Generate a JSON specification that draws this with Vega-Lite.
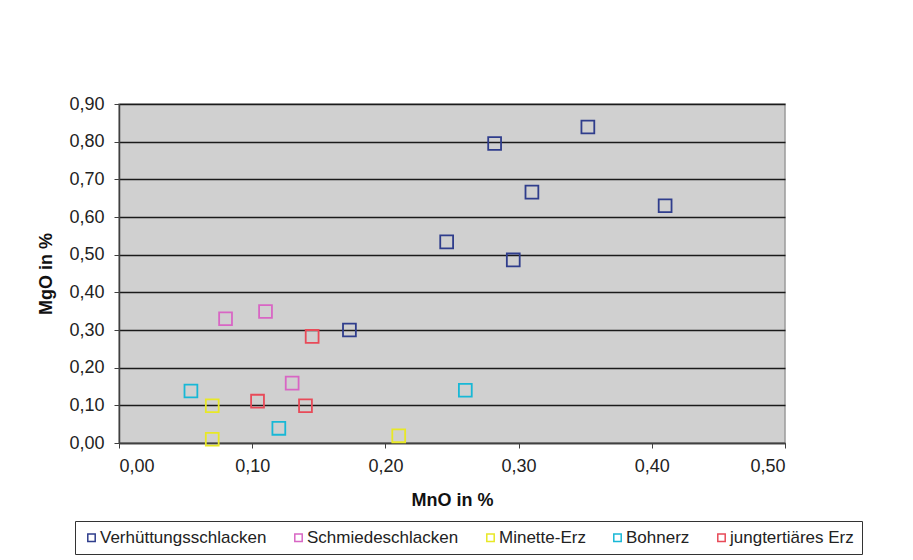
{
  "$schema": "https://vega.github.io/schema/vega-lite/v6.json",
  "autosize": "none",
  "width": 666,
  "height": 339,
  "padding": {"left": 119, "top": 104, "right": 128, "bottom": 117},
  "background": "#ffffff",
  "config": {
    "locale": {"number": {"decimal": ",", "thousands": ".", "grouping": [3], "currency": ["", " €"]}},
    "font": "Liberation Sans",
    "view": {"fill": "#d0d0d0", "stroke": "#9a9a9a", "strokeWidth": 1.5}
  },
  "data": {
    "values": [
      {"MnO": 0.246, "MgO": 0.534, "Gruppe": "Verhüttungsschlacken"},
      {"MnO": 0.282, "MgO": 0.795, "Gruppe": "Verhüttungsschlacken"},
      {"MnO": 0.352, "MgO": 0.839, "Gruppe": "Verhüttungsschlacken"},
      {"MnO": 0.310, "MgO": 0.666, "Gruppe": "Verhüttungsschlacken"},
      {"MnO": 0.410, "MgO": 0.630, "Gruppe": "Verhüttungsschlacken"},
      {"MnO": 0.296, "MgO": 0.486, "Gruppe": "Verhüttungsschlacken"},
      {"MnO": 0.173, "MgO": 0.300, "Gruppe": "Verhüttungsschlacken"},
      {"MnO": 0.080, "MgO": 0.330, "Gruppe": "Schmiedeschlacken"},
      {"MnO": 0.110, "MgO": 0.349, "Gruppe": "Schmiedeschlacken"},
      {"MnO": 0.130, "MgO": 0.159, "Gruppe": "Schmiedeschlacken"},
      {"MnO": 0.070, "MgO": 0.099, "Gruppe": "Minette-Erz"},
      {"MnO": 0.070, "MgO": 0.010, "Gruppe": "Minette-Erz"},
      {"MnO": 0.210, "MgO": 0.019, "Gruppe": "Minette-Erz"},
      {"MnO": 0.054, "MgO": 0.138, "Gruppe": "Bohnerz"},
      {"MnO": 0.120, "MgO": 0.039, "Gruppe": "Bohnerz"},
      {"MnO": 0.260, "MgO": 0.140, "Gruppe": "Bohnerz"},
      {"MnO": 0.145, "MgO": 0.283, "Gruppe": "jungtertiäres Erz"},
      {"MnO": 0.104, "MgO": 0.111, "Gruppe": "jungtertiäres Erz"},
      {"MnO": 0.140, "MgO": 0.099, "Gruppe": "jungtertiäres Erz"}
    ]
  },
  "mark": {"type": "point", "shape": "square", "filled": false, "size": 165, "strokeWidth": 1.8, "opacity": 1},
  "encoding": {
    "x": {
      "field": "MnO", "type": "quantitative", "title": "MnO in %",
      "scale": {"domain": [0, 0.5], "nice": false, "zero": true},
      "axis": {
        "values": [0, 0.1, 0.2, 0.3, 0.4, 0.5], "format": ".2f", "grid": false,
        "labelFont": "Liberation Sans", "labelFontSize": 18, "labelColor": "#222222", "labelPadding": 9,
        "tickSize": 5, "tickColor": "#404040", "domainColor": "#404040", "domainWidth": 1.5,
        "titleFont": "Liberation Sans", "titleFontSize": 18, "titleFontWeight": "bold", "titleColor": "#111111", "titlePadding": 16
      }
    },
    "y": {
      "field": "MgO", "type": "quantitative", "title": "MgO in %",
      "scale": {"domain": [0, 0.9], "nice": false, "zero": true},
      "axis": {
        "values": [0, 0.1, 0.2, 0.3, 0.4, 0.5, 0.6, 0.7, 0.8, 0.9], "format": ".2f",
        "grid": true, "gridColor": "#1a1a1a", "gridWidth": 1.3,
        "labelFont": "Liberation Sans", "labelFontSize": 18, "labelColor": "#222222", "labelPadding": 10,
        "tickSize": 5, "tickColor": "#404040", "domainColor": "#404040", "domainWidth": 1.5,
        "titleFont": "Liberation Sans", "titleFontSize": 18, "titleFontWeight": "bold", "titleColor": "#111111", "titlePadding": 13
      }
    },
    "color": {
      "field": "Gruppe", "type": "nominal",
      "scale": {
        "domain": ["Verhüttungsschlacken", "Schmiedeschlacken", "Minette-Erz", "Bohnerz", "jungtertiäres Erz"],
        "range": ["#2f3d8c", "#d866c4", "#e8e826", "#18b8d6", "#e84a58"]
      },
      "legend": {
        "title": null, "orient": "none", "direction": "horizontal", "columns": 5,
        "legendX": -44, "legendY": 417,
        "symbolType": "square", "symbolSize": 55, "symbolStrokeWidth": 1.5,
        "labelFont": "Liberation Sans", "labelFontSize": 17, "labelColor": "#222222", "labelOffset": 0, "labelLimit": 400,
        "columnPadding": 23, "padding": 8, "strokeColor": "#333333", "fillColor": "#ffffff"
      }
    }
  }
}
